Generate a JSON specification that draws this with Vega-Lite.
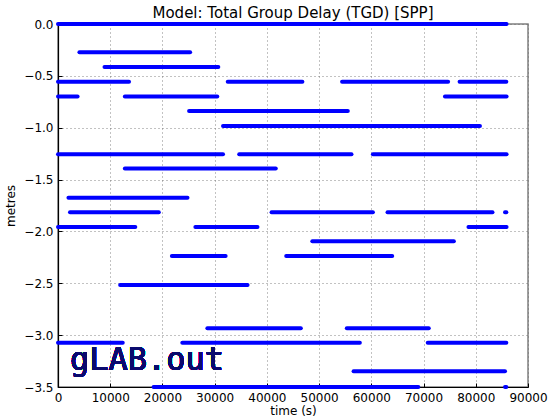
{
  "$schema": "https://vega.github.io/schema/vega-lite/v6.json",
  "width": 470,
  "height": 363,
  "autosize": "none",
  "padding": {"left": 58, "top": 24, "right": 22, "bottom": 31},
  "background": "white",
  "config": {
    "font": "DejaVu Sans",
    "view": {"stroke": "#808080", "strokeWidth": 1.5},
    "axis": {
      "labelFont": "DejaVu Sans",
      "titleFont": "DejaVu Sans",
      "labelFontSize": 12,
      "titleFontSize": 12,
      "labelColor": "#000",
      "titleColor": "#000",
      "titleFontWeight": "normal",
      "domainColor": "#000",
      "domainWidth": 1.2,
      "tickColor": "#000",
      "tickSize": -4,
      "labelPadding": 9,
      "grid": true,
      "gridColor": "#666",
      "gridDash": [1, 3],
      "gridWidth": 0.8
    }
  },
  "title": {
    "text": "Model: Total Group Delay (TGD) [SPP]",
    "font": "DejaVu Sans",
    "fontSize": 15,
    "fontWeight": "normal",
    "color": "#000",
    "offset": -3
  },
  "data": {
    "values": [
      {"tgd": 0.0, "start": 0, "end": 85900},
      {"tgd": -0.273, "start": 4100, "end": 25300},
      {"tgd": -0.415, "start": 8900, "end": 30700},
      {"tgd": -0.557, "start": 0, "end": 13600},
      {"tgd": -0.557, "start": 32500, "end": 46800},
      {"tgd": -0.557, "start": 54400, "end": 74700},
      {"tgd": -0.557, "start": 76900, "end": 85850},
      {"tgd": -0.70, "start": 0, "end": 3750},
      {"tgd": -0.70, "start": 12800, "end": 30500},
      {"tgd": -0.70, "start": 74100, "end": 85900},
      {"tgd": -0.84, "start": 25100, "end": 55500},
      {"tgd": -0.983, "start": 31600, "end": 80800},
      {"tgd": -1.255, "start": 0, "end": 31600},
      {"tgd": -1.255, "start": 34700, "end": 56200},
      {"tgd": -1.255, "start": 60300, "end": 85900},
      {"tgd": -1.393, "start": 12800, "end": 41700},
      {"tgd": -1.676, "start": 2000, "end": 24800},
      {"tgd": -1.815, "start": 2300, "end": 19300},
      {"tgd": -1.815, "start": 40900, "end": 60300},
      {"tgd": -1.815, "start": 63100, "end": 83200},
      {"tgd": -1.815, "start": 85600, "end": 85850},
      {"tgd": -1.957, "start": 0, "end": 14800},
      {"tgd": -1.957, "start": 26300, "end": 38200},
      {"tgd": -1.957, "start": 78600, "end": 85900},
      {"tgd": -2.095, "start": 48700, "end": 75800},
      {"tgd": -2.237, "start": 21800, "end": 32100},
      {"tgd": -2.237, "start": 43700, "end": 64000},
      {"tgd": -2.516, "start": 11900, "end": 36300},
      {"tgd": -2.934, "start": 28600, "end": 46500},
      {"tgd": -2.934, "start": 55300, "end": 71000},
      {"tgd": -3.073, "start": 0, "end": 12400},
      {"tgd": -3.073, "start": 23800, "end": 57800},
      {"tgd": -3.073, "start": 70800, "end": 85850},
      {"tgd": -3.347, "start": 56600, "end": 85600},
      {"tgd": -3.5, "start": 18300, "end": 69000},
      {"tgd": -3.5, "start": 85600, "end": 85850}
    ]
  },
  "layer": [
    {
      "mark": {"type": "rule", "color": "#0000ff", "strokeWidth": 4, "strokeCap": "round"},
      "encoding": {
        "x": {
          "field": "start",
          "type": "quantitative",
          "scale": {"domain": [0, 90000], "nice": false, "zero": false},
          "axis": {"title": "time (s)", "format": "d", "values": [0, 10000, 20000, 30000, 40000, 50000, 60000, 70000, 80000, 90000], "titlePadding": 2, "labelFlush": false}
        },
        "x2": {"field": "end"},
        "y": {
          "field": "tgd",
          "type": "quantitative",
          "scale": {"domain": [-3.5, 0], "nice": false, "zero": false},
          "axis": {"title": "metres", "format": ".1f", "values": [0, -0.5, -1, -1.5, -2, -2.5, -3, -3.5], "titlePadding": 6, "labelFlush": false}
        }
      }
    },
    {
      "mark": {"type": "text", "text": "gLAB.out", "font": "DejaVu Sans Mono", "fontSize": 32, "color": "#0a0a6e", "align": "left", "baseline": "alphabetic"},
      "encoding": {
        "x": {"datum": 2300},
        "y": {"datum": -3.34}
      }
    }
  ]
}
